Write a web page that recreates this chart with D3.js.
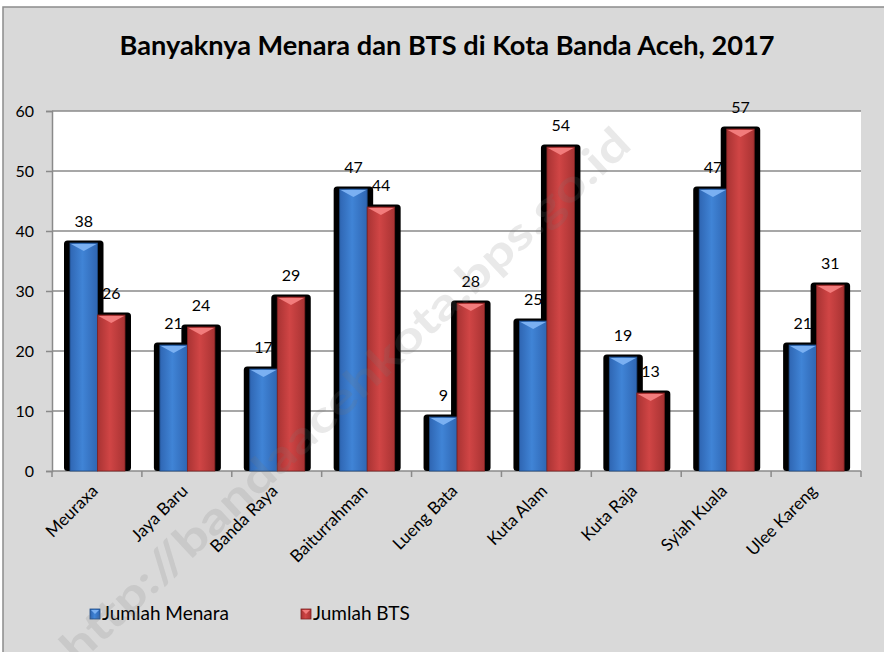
<!DOCTYPE html>
<html>
<head>
<meta charset="utf-8">
<script src="https://cdn.jsdelivr.net/npm/d3@7"></script>
<style>
  body { margin: 0; background: #fff; }
  text { font-family: Lato, "Open Sans", sans-serif; fill: #000; }
</style>
</head>
<body>
<div class="graphContainer"></div>
<script>
// Data
const kecamatan = ['Meuraxa', 'Jaya Baru', 'Banda Raya', 'Baiturrahman', 'Lueng Bata',
    'Kuta Alam', 'Kuta Raja', 'Syiah Kuala', 'Ulee Kareng'];
const jumlahMenara = [38, 21, 17, 47, 9, 25, 19, 47, 21];
const jumlahBTS = [26, 24, 29, 44, 28, 54, 13, 57, 31];
const seriesNames = ['Jumlah Menara', 'Jumlah BTS'];
const yTicks = [0, 10, 20, 30, 40, 50, 60];
const titleText = 'Banyaknya Menara dan BTS di Kota Banda Aceh, 2017';
const watermark = 'http://bandaacehkota.bps.go.id';

/**
 * Draw the whole chart.
 */
const renderChart = () => {
    const W = 884, H = 652;
    const plot = { left: 52, right: 861, top: 111, bottom: 471 };

    const svg = d3.select('.graphContainer')
        .append('svg')
        .attr('width', W)
        .attr('height', H);

    const defs = svg.append('defs');
    const makeGrad = (id, edge, mid) => {
        const g = defs.append('linearGradient').attr('id', id)
            .attr('x1', '0%').attr('x2', '100%').attr('y1', '0%').attr('y2', '0%');
        g.append('stop').attr('offset', '0%').attr('stop-color', edge);
        g.append('stop').attr('offset', '45%').attr('stop-color', mid);
        g.append('stop').attr('offset', '100%').attr('stop-color', edge);
    };
    makeGrad('gBlue', '#2f66b3', '#4084d6');
    makeGrad('gRed', '#a83333', '#d04545');

    // Chart frame
    svg.append('rect')
        .attr('x', 3).attr('y', 7)
        .attr('width', W + 10).attr('height', H + 10)
        .attr('fill', '#d9d9d9')
        .attr('stroke', '#8c8c8c')
        .attr('stroke-width', 1.5);

    // Title
    svg.append('text')
        .attr('x', 447).attr('y', 55)
        .attr('text-anchor', 'middle')
        .attr('font-size', 27)
        .attr('font-weight', 'bold')
        .attr('textLength', 655)
        .attr('lengthAdjust', 'spacingAndGlyphs')
        .text(titleText);

    // Scales
    const x0 = d3.scaleBand()
        .domain(kecamatan)
        .range([plot.left, plot.right])
        .paddingInner(0).paddingOuter(0);
    const x1 = d3.scaleBand()
        .domain(seriesNames)
        .range([18, 73]);
    const y = d3.scaleLinear()
        .domain([0, 60])
        .range([plot.bottom, plot.top]);

    // Plot area
    svg.append('rect')
        .attr('x', plot.left).attr('y', plot.top)
        .attr('width', plot.right - plot.left)
        .attr('height', plot.bottom - plot.top)
        .attr('fill', '#fff');

    // Gridlines
    svg.append('g')
        .selectAll('line')
        .data(yTicks.filter(d => d > 0))
        .enter()
        .append('line')
        .attr('x1', plot.left).attr('x2', plot.right)
        .attr('y1', d => y(d)).attr('y2', d => y(d))
        .attr('stroke', '#8a8a8a')
        .attr('stroke-width', 1.5);

    // Axes
    const yAxis = svg.append('g')
        .attr('transform', `translate(${plot.left},0)`)
        .call(d3.axisLeft(y).tickValues(yTicks).tickSize(6).tickPadding(12));
    yAxis.select('.domain').attr('stroke', '#8a8a8a').attr('stroke-width', 1.5);
    yAxis.selectAll('.tick line').attr('stroke', '#8a8a8a').attr('stroke-width', 1.5);
    yAxis.selectAll('.tick text')
        .attr('font-family', 'Lato, sans-serif')
        .attr('font-size', 16)
        .attr('fill', '#000');

    const xAxis = svg.append('g')
        .attr('transform', `translate(0,${plot.bottom})`);
    xAxis.append('line')
        .attr('x1', plot.left).attr('x2', plot.right)
        .attr('y1', 0).attr('y2', 0)
        .attr('stroke', '#8a8a8a').attr('stroke-width', 1.5);
    xAxis.selectAll('.xtick')
        .data(kecamatan.concat(['end']))
        .enter()
        .append('line')
        .attr('x1', (d, i) => plot.left + i * x0.bandwidth())
        .attr('x2', (d, i) => plot.left + i * x0.bandwidth())
        .attr('y1', 0).attr('y2', 6)
        .attr('stroke', '#8a8a8a').attr('stroke-width', 1.5);
    xAxis.selectAll('.xlabel')
        .data(kecamatan)
        .enter()
        .append('text')
        .attr('text-anchor', 'end')
        .attr('font-size', 17)
        .attr('transform', d => `translate(${x0(d) + x0.bandwidth() / 2 + 2},${21}) rotate(-45)`)
        .text(d => d);

    // Bars
    const rows = kecamatan.map((k, i) => ({
        k,
        vals: [
            { s: seriesNames[0], v: jumlahMenara[i] },
            { s: seriesNames[1], v: jumlahBTS[i] }
        ]
    }));
    const flat = rows.flatMap(r => r.vals.map(d => ({ k: r.k, s: d.s, v: d.v })));
    const bx = d => x0(d.k) + x1(d.s);
    const bw = x1.bandwidth();

    // Shadows behind all bars
    svg.append('g')
        .selectAll('rect')
        .data(flat)
        .enter()
        .append('rect')
        .attr('x', d => bx(d) - 6)
        .attr('y', d => y(d.v) - 2.5)
        .attr('width', bw + 12)
        .attr('height', d => plot.bottom - y(d.v) + 2.5)
        .attr('rx', 3.5)
        .attr('fill', '#000');

    const bars = svg.append('g')
        .selectAll('g')
        .data(flat)
        .enter()
        .append('g');
    bars.append('rect')
        .attr('x', d => bx(d))
        .attr('y', d => y(d.v))
        .attr('width', bw)
        .attr('height', d => plot.bottom - y(d.v))
        .attr('fill', d => d.s === seriesNames[0] ? 'url(#gBlue)' : 'url(#gRed)')
        .attr('stroke', d => d.s === seriesNames[0] ? '#1f4b85' : '#7f2222')
        .attr('stroke-width', 0.8);
    bars.append('path')
        .attr('d', d => {
            const x = bx(d), t = y(d.v);
            return `M${x + 1},${t + 1} L${x + bw - 1},${t + 1} L${x + bw / 2},${t + 8} Z`;
        })
        .attr('fill', d => d.s === seriesNames[0] ? '#7ab0f2' : '#f27c7c');

    // Value labels
    svg.append('g')
        .selectAll('text')
        .data(flat)
        .enter()
        .append('text')
        .attr('x', d => bx(d) + bw / 2)
        .attr('y', d => y(d.v) - 16)
        .attr('text-anchor', 'middle')
        .attr('font-size', 16)
        .text(d => d.v);

    // Legend
    const legendX = [90, 301];
    const legend = svg.append('g')
        .selectAll('g')
        .data(seriesNames)
        .enter()
        .append('g')
        .attr('transform', (d, i) => `translate(${legendX[i]},609)`);
    legend.append('rect')
        .attr('width', 10).attr('height', 10)
        .attr('fill', (d, i) => i === 0 ? 'url(#gBlue)' : 'url(#gRed)')
        .attr('stroke', (d, i) => i === 0 ? '#1f4b85' : '#7f2222')
        .attr('stroke-width', 0.8);
    legend.append('path')
        .attr('d', 'M1,1 L9,1 L5,5 Z')
        .attr('fill', (d, i) => i === 0 ? '#7ab0f2' : '#f27c7c');
    legend.append('text')
        .attr('x', 12).attr('y', 11)
        .attr('font-size', 19)
        .text(d => d);

    // Watermark
    svg.append('text')
        .attr('transform', 'translate(345,395) rotate(-43)')
        .attr('text-anchor', 'middle')
        .attr('dy', '0.35em')
        .attr('font-size', 44)
        .attr('font-weight', 'bold')
        .attr('textLength', 760)
        .attr('lengthAdjust', 'spacingAndGlyphs')
        .style('fill', 'rgba(120,120,120,0.16)')
        .text(watermark);
};

renderChart();
</script>
</body>
</html>
